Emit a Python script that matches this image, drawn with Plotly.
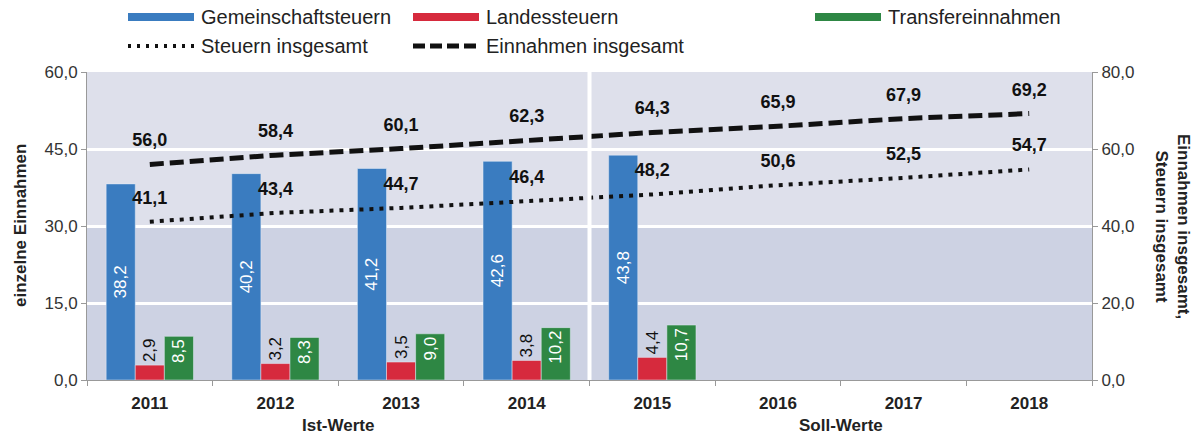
import plotly.graph_objects as go

years = ["2011", "2012", "2013", "2014", "2015", "2016", "2017", "2018"]
gemeinschaft = [38.2, 40.2, 41.2, 42.6, 43.8, None, None, None]
landes = [2.9, 3.2, 3.5, 3.8, 4.4, None, None, None]
transfer = [8.5, 8.3, 9.0, 10.2, 10.7, None, None, None]
steuern_ges = [41.1, 43.4, 44.7, 46.4, 48.2, 50.6, 52.5, 54.7]
einnahmen_ges = [56.0, 58.4, 60.1, 62.3, 64.3, 65.9, 67.9, 69.2]

left_ticks = [0, 15, 30, 45, 60]
right_ticks = [0, 20, 40, 60, 80]

BLUE = "#3a7cc0"
RED = "#d62a3d"
GREEN = "#2e8744"
FONT = "Liberation Sans, Arial, sans-serif"

fig = go.Figure()

fig.add_trace(go.Bar(
    x=years, y=gemeinschaft, name="Gemeinschaftsteuern", marker_color=BLUE,
    texttemplate="%{y:.1f}", textposition="inside", insidetextanchor="middle",
    textangle=-90, textfont=dict(color="white", size=17, family=FONT),
    showlegend=False))
fig.add_trace(go.Bar(
    x=years, y=landes, name="Landessteuern", marker_color=RED,
    texttemplate="%{y:.1f}", textposition="outside",
    textangle=-90, textfont=dict(color="#111111", size=17, family=FONT),
    cliponaxis=False, showlegend=False))
fig.add_trace(go.Bar(
    x=years, y=transfer, name="Transfereinnahmen", marker_color=GREEN,
    texttemplate="%{y:.1f}", textposition="inside", insidetextanchor="end",
    textangle=-90, textfont=dict(color="white", size=17, family=FONT),
    showlegend=False))

fig.add_trace(go.Scatter(
    x=years, y=steuern_ges, name="Steuern insgesamt", yaxis="y2",
    mode="lines+markers+text", line=dict(color="#111111", width=4, dash="4px,6px"),
    marker=dict(size=20, color="rgba(0,0,0,0)"),
    texttemplate="%{y:.1f}", textposition="top center",
    textfont=dict(color="#111111", size=18, family=FONT, weight="bold"),
    cliponaxis=False, showlegend=False))
fig.add_trace(go.Scatter(
    x=years, y=einnahmen_ges, name="Einnahmen insgesamt", yaxis="y2",
    mode="lines+markers+text", line=dict(color="#111111", width=5, dash="14px,6px"),
    marker=dict(size=20, color="rgba(0,0,0,0)"),
    texttemplate="%{y:.1f}", textposition="top center",
    textfont=dict(color="#111111", size=18, family=FONT, weight="bold"),
    cliponaxis=False, showlegend=False))

shapes = [
    dict(type="rect", xref="x domain", yref="y domain", x0=0, x1=1, y0=0.5, y1=1,
         fillcolor="#dee0eb", line_width=0, layer="below"),
    dict(type="rect", xref="x domain", yref="y domain", x0=0, x1=1, y0=0, y1=0.5,
         fillcolor="#cdd2e3", line_width=0, layer="below"),
    dict(type="line", xref="x", yref="y domain", x0=3.5, x1=3.5, y0=0, y1=1,
         line=dict(color="white", width=4), layer="above"),
]

# manual legend (paper coords)
def px2x(px):
    return (px - 87) / 1005

def py2y(py):
    return (380 - py) / 308

legend_items = [
    ("Gemeinschaftsteuern", 128, 17, dict(type="bar", color=BLUE)),
    ("Landessteuern", 413, 17, dict(type="bar", color=RED)),
    ("Transfereinnahmen", 815, 17, dict(type="bar", color=GREEN)),
    ("Steuern insgesamt", 128, 46, dict(type="line", dash="3px,6px", width=4)),
    ("Einnahmen insgesamt", 413, 46, dict(type="line", dash="12px,5px", width=5)),
]
annotations = []
for label, x0, yc, sty in legend_items:
    w = 66
    if sty["type"] == "bar":
        shapes.append(dict(type="rect", xref="paper", yref="paper",
                           x0=px2x(x0), x1=px2x(x0 + w), y0=py2y(yc + 4), y1=py2y(yc - 4),
                           fillcolor=sty["color"], line_width=0))
    else:
        shapes.append(dict(type="line", xref="paper", yref="paper",
                           x0=px2x(x0), x1=px2x(x0 + w), y0=py2y(yc), y1=py2y(yc),
                           line=dict(color="#111111", width=sty["width"], dash=sty["dash"])))
    annotations.append(dict(text=label, xref="paper", yref="paper", x=px2x(x0 + w + 5), y=py2y(yc),
                            xanchor="left", yanchor="middle", showarrow=False,
                            font=dict(size=20, color="#222222", family=FONT)))

annotations += [
    dict(text="Ist-Werte", xref="x", yref="paper", x=1.5, y=py2y(425), showarrow=False,
         xanchor="center", yanchor="middle", font=dict(size=17, color="#222222", family=FONT, weight="bold")),
    dict(text="Soll-Werte", xref="x", yref="paper", x=5.5, y=py2y(425), showarrow=False,
         xanchor="center", yanchor="middle", font=dict(size=17, color="#222222", family=FONT, weight="bold")),
    dict(text="einzelne Einnahmen", xref="paper", yref="paper", x=px2x(20), y=0.5, showarrow=False,
         textangle=-90, xanchor="center", yanchor="middle",
         font=dict(size=17, color="#222222", family=FONT, weight="bold")),
    dict(text="Einnahmen insgesamt,<br>Steuern insgesamt", xref="paper", yref="paper", x=px2x(1173), y=0.5,
         showarrow=False, textangle=90, xanchor="center", yanchor="middle",
         font=dict(size=17, color="#222222", family=FONT, weight="bold")),
]

fig.update_layout(
    width=1199, height=438,
    margin=dict(l=87, r=107, t=72, b=58),
    paper_bgcolor="white", plot_bgcolor="rgba(0,0,0,0)",
    barmode="group", bargap=0.305, bargroupgap=0,
    separators=",.",
    font=dict(family=FONT, size=17, color="#333333"),
    shapes=shapes, annotations=annotations,
    xaxis=dict(type="category", showgrid=False, showline=True, linecolor="#999999", linewidth=1,
               ticks="outside", tickson="boundaries", ticklen=5, tickcolor="#999999",
               tickfont=dict(size=17, color="#222222", family=FONT, weight="bold"),
               ticklabelstandoff=8),
    yaxis=dict(range=[0, 60], tickvals=left_ticks, tickformat=".1f", showgrid=True,
               gridcolor="white", gridwidth=3, zeroline=False, showline=True,
               linecolor="#999999", linewidth=1, ticks="outside", ticklen=5, tickcolor="#999999",
               tickfont=dict(size=17, color="#333333", family=FONT)),
    yaxis2=dict(range=[0, 80], tickvals=right_ticks, tickformat=".1f", overlaying="y", side="right",
                showgrid=False, zeroline=False, showline=True, linecolor="#999999", linewidth=1,
                ticks="outside", ticklen=5, tickcolor="#999999",
                tickfont=dict(size=17, color="#333333", family=FONT)),
)

fig.write_html("out.html", config={"displayModeBar": False},
               post_script="document.body.style.margin='0';document.body.style.padding='0';")
